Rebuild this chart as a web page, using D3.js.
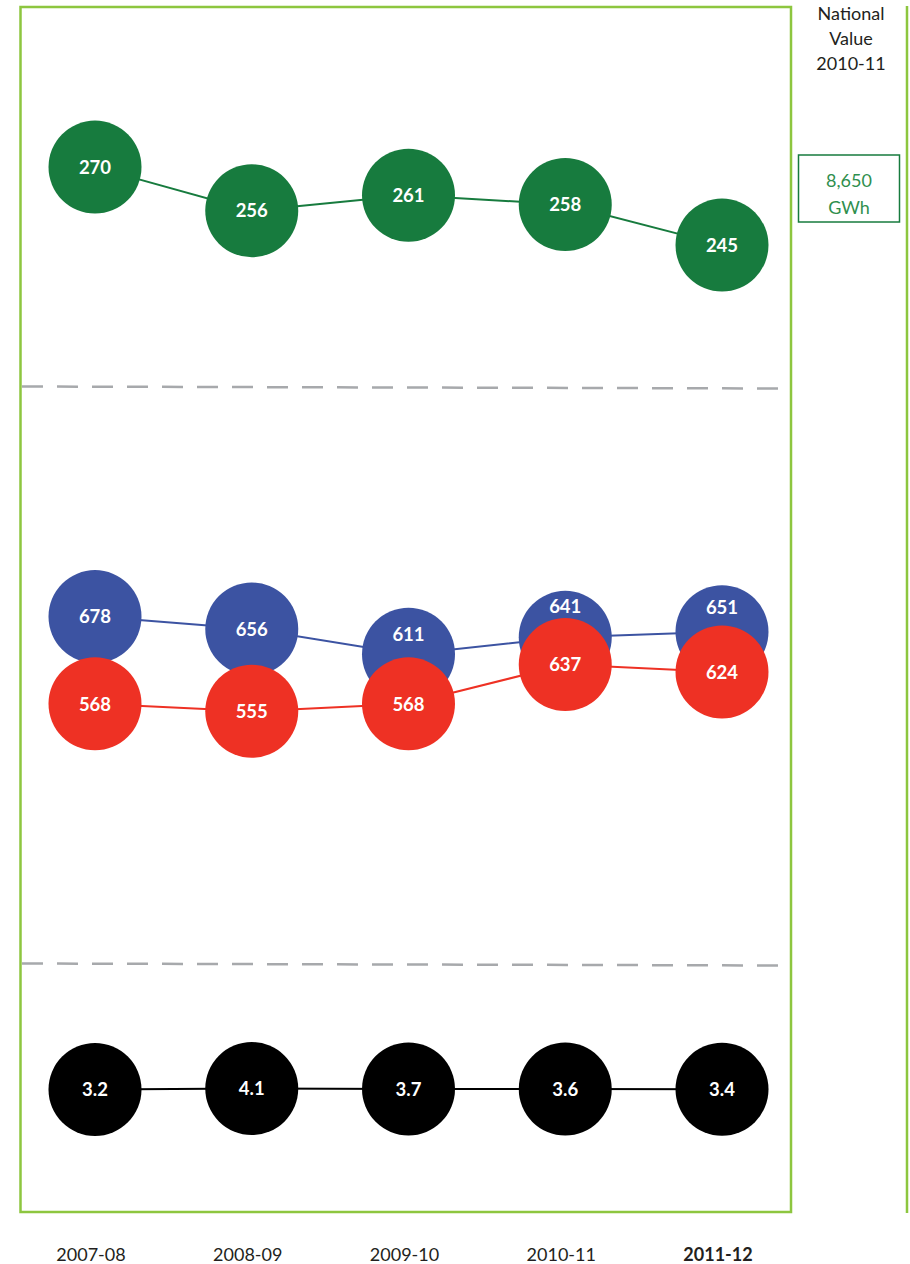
<!DOCTYPE html>
<html>
<head>
<meta charset="utf-8">
<script src="https://cdn.jsdelivr.net/npm/d3@7"></script>
<style>
  html, body { margin: 0; padding: 0; background: #fff; }
  svg { display: block; }
  text { font-family: Lato, "Open Sans", "DejaVu Sans", sans-serif; }
</style>
</head>
<body>
<svg id="chart" width="910" height="1264"></svg>
<script>
// Financial years along the bottom
const years = ["2007-08", "2008-09", "2009-10", "2010-11", "2011-12"];
const highlightYear = "2011-12";

// Indicator series, one value per year
const greenValues = [270, 256, 261, 258, 245];
const blueValues  = [678, 656, 611, 641, 651];
const redValues   = [568, 555, 568, 637, 624];
const blackValues = [3.2, 4.1, 3.7, 3.6, 3.4];

// National reference column
const nationalHeading = ["National", "Value", "2010-11"];
const nationalGreen = ["8,650", "GWh"];

const colors = {
  frame: "#8dc63f",
  green: "#177b3e",
  greenText: "#2f8f4e",
  blue: "#3c53a2",
  red: "#ee3124",
  black: "#000000",
  dash: "#a7a9ac",
  text: "#231f20"
};

const R = 46.5;
const svg = d3.select("#chart");

const x = d3.scalePoint().domain(years).range([95, 722]);

// Each panel has its own vertical scale
const yGreen = d3.scaleLinear().domain([245, 270]).range([245.1, 167.1]);
const yBlue  = d3.scaleLinear().domain([600, 700]).range([660.3, 604.3]);
const yRed   = d3.scaleLinear().domain([550, 650]).range([714.1, 657.1]);
const yBlack = d3.scaleLinear().domain([3, 4.5]).range([1089.7, 1088.1]);

// Outer frame and right-hand rule
svg.append("rect")
  .attr("x", 20.5).attr("y", 7).attr("width", 770.5).attr("height", 1205)
  .attr("fill", "none").attr("stroke", colors.frame).attr("stroke-width", 2.5);
svg.append("line")
  .attr("x1", 907).attr("x2", 907).attr("y1", 6).attr("y2", 1213)
  .attr("stroke", colors.frame).attr("stroke-width", 2.5);

// Panel separators
[[386.5, 388.5], [963.5, 965.5]].forEach(([ya, yb]) => {
  svg.append("line")
    .attr("x1", 22).attr("x2", 790).attr("y1", ya).attr("y2", yb)
    .attr("stroke", colors.dash).attr("stroke-width", 2.5)
    .attr("stroke-dasharray", "21,14");
});

function drawSeries(values, y, color) {
  const pts = values.map((v, i) => ({ v, year: years[i], cx: x(years[i]), cy: y(v) }));
  svg.append("path")
    .datum(pts)
    .attr("fill", "none").attr("stroke", color).attr("stroke-width", 2)
    .attr("d", d3.line().x(d => d.cx).y(d => d.cy));
  const g = svg.append("g");
  g.selectAll("circle").data(pts).join("circle")
    .attr("cx", d => d.cx).attr("cy", d => d.cy).attr("r", R)
    .attr("fill", color);
  return { pts, g };
}

function addLabels(series, labelY) {
  series.g.selectAll("text").data(series.pts).join("text")
    .attr("x", d => d.cx)
    .attr("y", (d, i) => labelY ? labelY(d, i) : d.cy)
    .attr("dy", "0.36em")
    .attr("text-anchor", "middle")
    .attr("fill", "#fff")
    .attr("font-weight", 700)
    .attr("font-size", 18.5)
    .text(d => String(d.v));
}

// Top panel
const green = drawSeries(greenValues, yGreen, colors.green);
addLabels(green);

// Middle panel: red circles sit over the blue ones
const blue = drawSeries(blueValues, yBlue, colors.blue);
const red = drawSeries(redValues, yRed, colors.red);
addLabels(blue, (d, i) => {
  const redTop = red.pts[i].cy - R;
  if (redTop < d.cy + 12) return ((d.cy - R) + redTop) / 2 + 2;
  return d.cy;
});
addLabels(red);

// Bottom panel
const black = drawSeries(blackValues, yBlack, colors.black);
addLabels(black);

// Year labels
svg.selectAll("text.year").data(years).join("text")
  .attr("class", "year")
  .attr("x", d => x(d) - 4)
  .attr("y", 1261)
  .attr("text-anchor", "middle")
  .attr("font-size", 18)
  .attr("font-weight", d => d === highlightYear ? 700 : 400)
  .attr("fill", colors.text)
  .text(d => d);

// National value column
svg.selectAll("text.nat").data(nationalHeading).join("text")
  .attr("class", "nat")
  .attr("x", 851)
  .attr("y", (d, i) => 20 + i * 25)
  .attr("text-anchor", "middle")
  .attr("font-size", 18)
  .attr("font-weight", 400)
  .attr("fill", colors.text)
  .text(d => d);

svg.append("rect")
  .attr("x", 798.5).attr("y", 155).attr("width", 101).attr("height", 67)
  .attr("fill", "none").attr("stroke", colors.green).attr("stroke-width", 1.5);
svg.selectAll("text.natv").data(nationalGreen).join("text")
  .attr("class", "natv")
  .attr("x", 849)
  .attr("y", (d, i) => 187 + i * 27)
  .attr("text-anchor", "middle")
  .attr("font-size", 18)
  .attr("font-weight", 400)
  .attr("fill", colors.greenText)
  .text(d => d);
</script>
</body>
</html>
